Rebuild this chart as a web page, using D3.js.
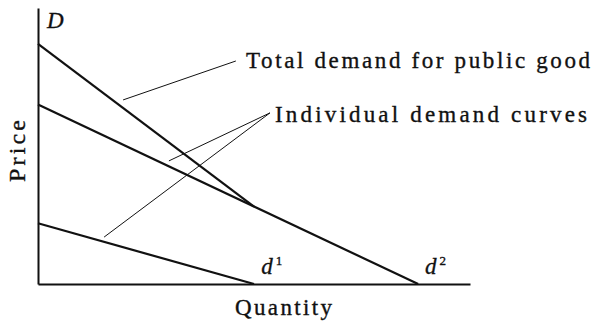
<!DOCTYPE html>
<html>
<head>
<meta charset="utf-8">
<script src="https://cdn.jsdelivr.net/npm/d3@7"></script>
<style>
  html, body { margin: 0; padding: 0; background: #fff; }
  svg { display: block; }
  text { font-family: "Liberation Serif", "Times New Roman", serif; fill: #111; stroke: #111; stroke-width: 0.35px; }
</style>
</head>
<body>
<svg id="chart" width="594" height="328"></svg>
<script>
// ---- data (quantity, price) ----
const individual1 = [[0, 2.2], [5.0, 0]];      // d1
const individual2 = [[0, 6.5], [8.8, 0]];      // d2
const totalDemand = [[0, 8.7], [5.0, 2.807]];  // D = d1 + d2 (vertical sum)
const totalLeader = [[1.97, 6.67], [4.58, 8.08]];
const indivLeaderA = [[3.03, 4.46], [5.37, 6.20]];
const indivLeaderB = [[1.53, 1.70], [5.37, 6.20]];
const labels = {
  total: "Total demand for public good",
  indiv: "Individual demand curves",
  xAxis: "Quantity",
  yAxis: "Price",
  D: "D"
};

const svg = d3.select("#chart");
const x = d3.scaleLinear().domain([0, 10]).range([38, 470]);
const y = d3.scaleLinear().domain([0, 10]).range([284, 8]);
const line = d3.line().x(d => x(d[0])).y(d => y(d[1]));

// axes (plain lines, no ticks)
const xAxis = d3.axisBottom(x).ticks(0).tickSize(0).tickFormat("");
const yAxis = d3.axisLeft(y).ticks(0).tickSize(0).tickFormat("");
svg.append("g").attr("transform", `translate(0,${y(0)})`).call(xAxis)
  .select(".domain").attr("stroke", "#111").attr("stroke-width", 2);
svg.append("g").attr("transform", `translate(${x(0)},0)`).call(yAxis)
  .select(".domain").attr("stroke", "#111").attr("stroke-width", 2);

// demand curves
[individual1, individual2, totalDemand].forEach(d => {
  svg.append("path").datum(d).attr("d", line)
    .attr("fill", "none").attr("stroke", "#111").attr("stroke-width", 2.2);
});

// leader lines
[totalLeader, indivLeaderA, indivLeaderB].forEach(d => {
  svg.append("path").datum(d).attr("d", line)
    .attr("fill", "none").attr("stroke", "#111").attr("stroke-width", 1);
});

// text
svg.append("text").attr("x", 246).attr("y", 68).attr("font-size", 23)
  .attr("textLength", 344).attr("lengthAdjust", "spacing").text(labels.total);
svg.append("text").attr("x", 275).attr("y", 122).attr("font-size", 23)
  .attr("textLength", 312).attr("lengthAdjust", "spacing").text(labels.indiv);
svg.append("text").attr("x", 235).attr("y", 315).attr("font-size", 23)
  .attr("textLength", 97).attr("lengthAdjust", "spacing").text(labels.xAxis);
svg.append("text").attr("transform", "translate(25,151) rotate(-90)")
  .attr("text-anchor", "middle").attr("font-size", 24)
  .attr("textLength", 62).attr("lengthAdjust", "spacing").text(labels.yAxis);
svg.append("text").attr("x", 47).attr("y", 28).attr("font-size", 23)
  .attr("font-style", "italic").text(labels.D);

// d1, d2 labels
function dLabel(xq, sup) {
  const t = svg.append("text").attr("x", x(xq)).attr("y", 274)
    .attr("font-size", 23).attr("font-style", "italic");
  t.append("tspan").text("d");
  t.append("tspan").attr("font-size", 13).attr("font-style", "normal")
    .attr("dx", 3).attr("dy", -9).text(sup);
}
dLabel(5.17, "1");
dLabel(8.96, "2");
</script>
</body>
</html>
